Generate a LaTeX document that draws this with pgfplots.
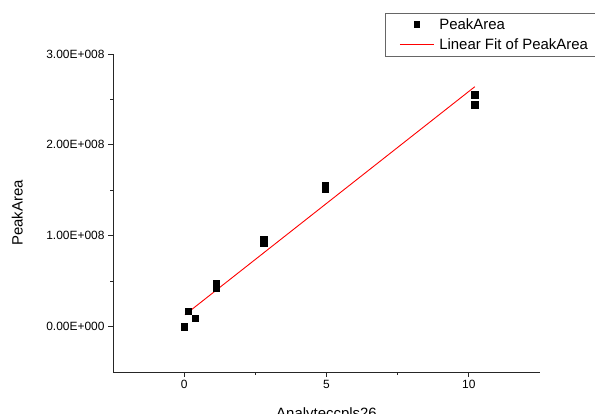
\documentclass[border=0pt]{standalone}
\usepackage{fontspec}
\setmainfont{Liberation Sans}
\usepackage{pgfplots}
\pgfplotsset{compat=1.18}
\definecolor{fitred}{RGB}{255,0,0}

\begin{document}
\begin{tikzpicture}
\useasboundingbox (0,0) rectangle (595bp,414bp);
\clip (0,0) rectangle (595bp,414bp);
\begin{axis}[
  at={(113bp,42bp)}, anchor=south west,
  scale only axis,
  width=427bp, height=318bp,
  xmin=-2.5, xmax=12.5,
  ymin=-0.5e8, ymax=3e8,
  axis x line=bottom, axis y line=left,
  axis line style={-, black!85, line width=0.8bp},
  every tick/.style={black!85, line width=0.8bp},
  tick align=outside,
  major tick length=5bp, minor tick length=3bp,
  xtick={0,5,10}, xticklabels={0,5,10},
  ytick={0,1e8,2e8,3e8},
  yticklabels={0.00E+000,1.00E+008,2.00E+008,3.00E+008},
  minor x tick num=1, minor y tick num=1,
  scaled y ticks=false,
  tick label style={font=\fontsize{12}{13}\selectfont},
  xlabel={Analyteccpls26}, ylabel={PeakArea},
  label style={font=\fontsize{15}{16}\selectfont},
  xlabel style={at={(axis description cs:0.5,-0.110)}, anchor=north, inner sep=0pt},
  ylabel style={at={(axis description cs:-0.224,0.5)}, anchor=center, inner sep=0pt},
  legend style={at={(axis description cs:0.637,1.129)}, anchor=north west,
    draw=black!60, line width=0.8bp, fill=white,
    font=\fontsize{15}{16}\selectfont,
    inner xsep=14bp, inner ysep=3bp,
    row sep=4bp,
    /tikz/every odd column/.style={column sep=3bp}},
  legend cell align=left,
  legend image code/.code={\draw[mark repeat=2,mark phase=2,#1] plot coordinates {(0bp,0bp) (17bp,0bp) (34bp,0bp)};},
  clip=false
]
\addplot[only marks, mark=square*, mark size=3.2bp, black,
  legend image post style={mark size=2.8bp}] coordinates {
 (0.00,0.000e8) (0.14,0.166e8) (0.38,0.094e8)
 (1.12,0.470e8) (1.12,0.430e8)
 (2.80,0.960e8) (2.80,0.920e8)
 (4.96,1.550e8) (4.96,1.515e8)
 (10.21,2.550e8) (10.21,2.440e8)
};
\addlegendentry{PeakArea}
\addplot[fitred, line width=0.9bp] coordinates {(0.03,0.13e8) (10.21,2.64e8)};
\addlegendentry{Linear Fit of PeakArea}
\end{axis}
\end{tikzpicture}
\end{document}
